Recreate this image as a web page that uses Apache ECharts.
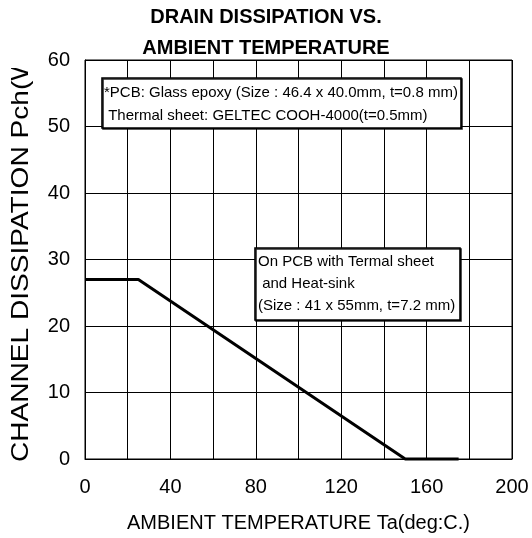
<!DOCTYPE html>
<html>
<head>
<meta charset="utf-8">
<script src="https://cdn.jsdelivr.net/npm/echarts@6/dist/echarts.min.js"></script>
<style>
  html, body { margin: 0; padding: 0; background: #fff; }
  #chart { width: 532px; height: 538px; }
</style>
</head>
<body>
<div id="chart"></div>
<script>
// Derating curve: ambient temperature (deg C) vs allowed channel dissipation (W)
const ambientTemp = [0, 25, 150, 175];
const channelDissipation = [27, 27, 0, 0];

const xTicks = { min: 0, max: 200, step: 20, labelStep: 40 };
const yTicks = { min: 0, max: 60, step: 10 };

const titleLines = ['DRAIN DISSIPATION VS.', 'AMBIENT TEMPERATURE'];
const xAxisName = 'AMBIENT TEMPERATURE Ta(deg:C.)';
const yAxisName = 'CHANNEL DISSIPATION Pch(W)';

const noteBoard = [
  '*PCB: Glass epoxy (Size : 46.4 x 40.0mm, t=0.8 mm)',
  ' Thermal sheet: GELTEC COOH-4000(t=0.5mm)'
];
const noteSink = [
  'On PCB with Termal sheet',
  ' and Heat-sink',
  '(Size : 41 x 55mm, t=7.2 mm)'
];

const FONT = '"Liberation Sans", Arial, sans-serif';
const chart = echarts.init(document.getElementById('chart'), null, { renderer: 'canvas' });

const points = ambientTemp.map((t, i) => [t, channelDissipation[i]]);

// White framed note with a hard 1px drop edge
function noteBox(left, top, width, height, lines, lineHeight, textX, textY) {
  return {
    type: 'group',
    x: left, y: top,
    z: 100,
    children: [
      {
        type: 'rect',
        z: 100,
        shape: { x: 0, y: 0, width: width, height: height },
        style: {
          fill: '#fff', stroke: '#000', lineWidth: 1.6,
          shadowColor: 'rgba(0,0,0,0.85)', shadowOffsetX: 1, shadowOffsetY: 1, shadowBlur: 0
        }
      },
      {
        type: 'text',
        z: 101,
        x: textX, y: textY,
        style: {
          text: lines.join('\n'),
          font: '15px ' + FONT,
          lineHeight: lineHeight,
          fill: '#000',
          textVerticalAlign: 'top'
        }
      }
    ]
  };
}

chart.setOption({
  animation: false,
  backgroundColor: '#fff',
  title: {
    text: titleLines.join('\n'),
    left: 'center',
    top: -3,
    textStyle: { fontFamily: FONT, fontWeight: 'bold', fontSize: 20, lineHeight: 31, color: '#000' }
  },
  grid: { left: 85, right: 20, top: 60, bottom: 78, show: true, borderColor: '#000', borderWidth: 1, backgroundColor: 'transparent' },
  xAxis: {
    type: 'value',
    min: xTicks.min, max: xTicks.max, interval: xTicks.step,
    name: xAxisName,
    nameLocation: 'middle',
    nameGap: 54,
    nameTextStyle: { fontFamily: FONT, fontSize: 20, color: '#000' },
    axisLine: { show: true, lineStyle: { color: '#000', width: 1 } },
    axisTick: { show: false },
    axisLabel: {
      fontFamily: FONT, fontSize: 20, color: '#000', margin: 18,
      formatter: v => (v % xTicks.labelStep === 0 ? String(v) : '')
    },
    splitLine: { show: true, lineStyle: { color: '#000', width: 1 } }
  },
  yAxis: {
    type: 'value',
    min: yTicks.min, max: yTicks.max, interval: yTicks.step,
    axisLine: { show: true, lineStyle: { color: '#000', width: 1 } },
    axisTick: { show: false },
    axisLabel: { fontFamily: FONT, fontSize: 20, color: '#000', margin: 15 },
    splitLine: { show: true, lineStyle: { color: '#000', width: 1 } }
  },
  series: [{
    type: 'line',
    data: points,
    showSymbol: false,
    clip: false,
    lineStyle: { color: '#000', width: 3 },
    z: 5
  }],
  graphic: [
    {
      // vertical axis title, drawn slightly stretched along its run
      type: 'text',
      x: 21, y: 462,
      rotation: Math.PI / 2,
      scaleX: 1.17,
      z: 10,
      style: {
        text: yAxisName,
        font: '24px ' + FONT,
        fill: '#000',
        textAlign: 'left',
        textVerticalAlign: 'middle'
      }
    },
    // the long axis title runs past the top of the plot and is cut off there
    {
      type: 'rect',
      z: 11,
      shape: { x: 0, y: 0, width: 40, height: 68 },
      style: { fill: '#fff' }
    },
    noteBox(102, 78, 359, 50, noteBoard, 23, 2, 3),
    noteBox(255, 248, 205, 72, noteSink, 22, 3, 3)
  ]
});
</script>
</body>
</html>
